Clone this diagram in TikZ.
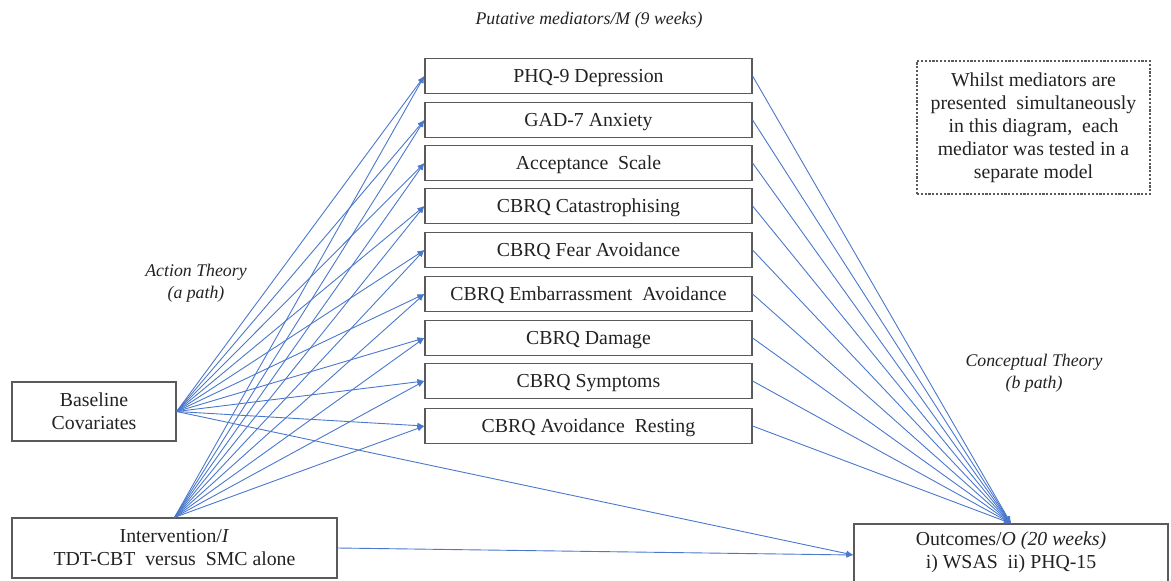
\documentclass[tikz,border=0pt]{standalone}
\usepackage{fontspec}
\setmainfont{Liberation Serif}
\usetikzlibrary{arrows.meta}
\definecolor{lineblue}{HTML}{4A78CC}
\definecolor{boxgray}{HTML}{5A5A5A}
\definecolor{textgray}{HTML}{222222}
\begin{document}
\begin{tikzpicture}[x=1pt,y=-1pt,
  box/.style={draw=boxgray, line width=1.2pt, inner sep=0pt, align=center,
    text=textgray, font=\fontsize{19.8}{23}\selectfont},
  med/.style={box, minimum width=327pt, minimum height=35pt, text height=13pt, text depth=0pt},
  arr/.style={draw=lineblue, line width=0.9pt, -{Latex[length=7pt,width=6pt]}},
  lab/.style={font=\fontsize{17.8}{21.5}\selectfont\itshape, align=center, text=textgray}]
\useasboundingbox (0,0) rectangle (1171,581);

% mediators
\node[med] (m1) at (588.5,76)  {PHQ-9 Depression};
\node[med] (m2) at (588.5,120) {GAD-7 Anxiety};
\node[med] (m3) at (588.5,163) {Acceptance\ \ Scale};
\node[med] (m4) at (588.5,206) {CBRQ Catastrophising};
\node[med] (m5) at (588.5,250) {CBRQ Fear Avoidance};
\node[med] (m6) at (588.5,294) {CBRQ Embarrassment\ \ Avoidance};
\node[med] (m7) at (588.5,338) {CBRQ Damage};
\node[med] (m8) at (588.5,381) {CBRQ Symptoms};
\node[med] (m9) at (588.5,426) {CBRQ Avoidance\ \ Resting};

% other boxes
\node[box, minimum width=164pt, minimum height=59pt] (base) at (94,411.5) {Baseline\\Covariates};
\node[box, minimum width=325pt, minimum height=60pt] (int) at (174.5,548) {Intervention/\textit{I}\\TDT-CBT\ \ versus\ \ SMC alone};
\node[box, minimum width=314pt, minimum height=62pt, text depth=10pt] (out) at (1011,555) {Outcomes/\textit{O (20 weeks)}\\i) WSAS\ \ ii) PHQ-15};
\node[box, draw=boxgray, dash pattern=on 2.2pt off 1.6pt, line width=1.2pt, minimum width=233pt, minimum height=133pt] (note) at (1033.5,127.5)
  {Whilst mediators are\\presented\ \ simultaneously\\in this diagram,\ \ each\\mediator was tested in a\\separate model};

% labels
\node[lab] (lput) at (589,20) {Putative mediators/M (9 weeks)};
\node[lab] (lact) at (196,283) {Action Theory\\(a path)};
\node[lab] (lcon) at (1034,373) {Conceptual Theory\\(b path)};

% connectors
\foreach \m in {m1,m2,m3,m4,m5,m6,m7,m8,m9}{
  \draw[arr] (base.east) -- (\m.west);
  \draw[arr] (int.north) -- (\m.west);
  \draw[arr] (\m.east) -- (out.north);
}
\draw[arr] (base.east) -- (out.west);
\draw[arr] (int.east) -- (out.west);
\end{tikzpicture}
\end{document}
